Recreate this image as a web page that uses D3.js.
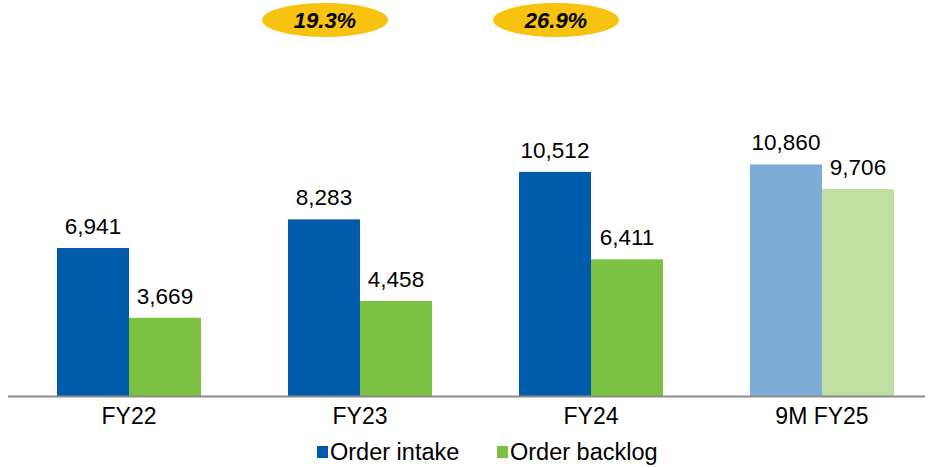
<!DOCTYPE html>
<html><head><meta charset="utf-8">
<script src="https://cdn.jsdelivr.net/npm/d3@7"></script>
<style>body{margin:0;background:#fff;} svg{display:block;font-family:"Liberation Sans",Arial,sans-serif;}</style>
</head><body><svg id="c" width="930" height="468"></svg>
<script>
const categories = ["FY22","FY23","FY24","9M FY25"];
const orderIntake = [6941, 8283, 10512, 10860];
const orderBacklog = [3669, 4458, 6411, 9706];
const seriesNames = ["Order intake","Order backlog"];
const growthLabels = ["19.3%","26.9%"];
const growthAnchors = ["FY23","FY24"];

const svg = d3.select("#c");
const baseY = 396;
const x0 = d3.scaleBand().domain(categories).range([13.5, 937.5]);
const xs = d3.scaleBand().domain(seriesNames).range([0, 144]);
const y = d3.scaleLinear().domain([0, 18574]).range([baseY, 0]);

const colors = {
  "Order intake": ["#005BAA","#005BAA","#005BAA","#7FACD6"],
  "Order backlog": ["#7DC143","#7DC143","#7DC143","#BFE0A0"]
};
const fmt = d3.format(",");
const data = [orderIntake, orderBacklog];

seriesNames.forEach((s, si) => {
  const g = svg.append("g");
  categories.forEach((c, i) => {
    const cx = x0(c) + x0.bandwidth()/2 - 72;
    const bx = cx + xs(s);
    const v = data[si][i];
    g.append("rect").attr("x", bx).attr("y", y(v)).attr("width", xs.bandwidth()).attr("height", baseY - y(v))
      .attr("fill", colors[s][i]);
    g.append("text").attr("x", bx + xs.bandwidth()/2).attr("y", y(v) - 14)
      .attr("text-anchor","middle").attr("font-size", 22.5).attr("fill","#000").text(fmt(v));
  });
});

// axis
const axis = d3.axisBottom(x0).tickSize(0).tickPadding(12);
const ag = svg.append("g").attr("transform", `translate(0,${baseY})`).call(axis);
ag.select(".domain").attr("d", "M8,0.5H925").attr("stroke","#8c8c8c").attr("stroke-width",2);
ag.selectAll("text").attr("font-size", 23).attr("font-family","Liberation Sans, Arial, sans-serif").attr("fill","#000");

// growth ellipses
growthAnchors.forEach((a, i) => {
  const cx = x0(a) + x0.bandwidth()/2 - 35;
  const g = svg.append("g");
  g.append("ellipse").attr("cx", cx).attr("cy", 20).attr("rx", 63).attr("ry", 17).attr("fill", "#F8C310");
  g.append("text").attr("x", cx).attr("y", 28).attr("text-anchor","middle").attr("font-size", 22)
    .attr("font-weight","bold").attr("font-style","italic").attr("fill","#000").text(growthLabels[i]);
});

// legend
const leg = [{name: seriesNames[0], color: "#005BAA", x: 317}, {name: seriesNames[1], color: "#7DC143", x: 497}];
leg.forEach(l => {
  svg.append("rect").attr("x", l.x).attr("y", 446).attr("width", 11).attr("height", 12).attr("fill", l.color);
  svg.append("text").attr("x", l.x + 13).attr("y", 460).attr("font-size", 23.5).attr("fill","#000").text(l.name);
});
</script></body></html>
